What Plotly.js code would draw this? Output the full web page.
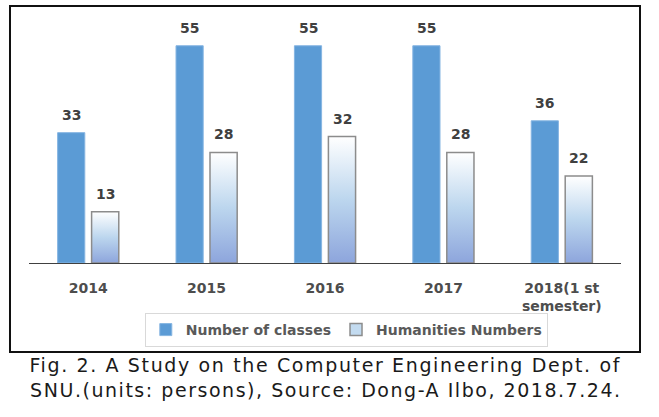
<!DOCTYPE html>
<html><head><meta charset="utf-8">
<script src="https://cdn.plot.ly/plotly-3.0.1.min.js"></script>
<style>html,body{margin:0;padding:0;background:#fff;} #chart{width:659px;height:417px;}</style>
</head><body><div id="chart"></div>
<script>
const categories = ['2014', '2015', '2016', '2017', '2018(1 st<br>semester)'];
const classes = [33, 55, 55, 55, 36];
const humanities = [13, 28, 32, 28, 22];
const seriesNames = ['Number of classes', 'Humanities Numbers'];
const captionLines = [
  'Fig. 2. A Study on the Computer Engineering Dept. of',
  'SNU.(units: persons), Source: Dong-A Ilbo, 2018.7.24.'
];

const labelFont = {family: 'DejaVu Sans', size: 14, color: '#404040', weight: 'bold'};
const annotations = [];
[classes, humanities].forEach((vals, si) => {
  vals.forEach((v, i) => {
    annotations.push({
      x: i, y: v, xref: 'x', yref: 'y', text: String(v),
      showarrow: false, xshift: si === 0 ? -17 : 17, yshift: 18,
      xanchor: 'center', yanchor: 'middle', font: labelFont
    });
  });
});
captionLines.forEach((t, i) => {
  annotations.push({
    x: 0.5, y: i === 0 ? -0.43 : -0.536, xref: 'paper', yref: 'paper',
    text: t, showarrow: false, xanchor: 'center', yanchor: 'middle',
    font: {family: 'DejaVu Sans', size: 19, color: '#1a1a1a'}
  });
});

const data = [
  {type: 'bar', name: seriesNames[0], x: categories, y: classes,
   marker: {color: '#5b9bd5', line: {color: '#86b5e2', width: 1}}},
  {type: 'bar', name: seriesNames[1], x: categories, y: humanities,
   marker: {color: '#c3dbf0', line: {color: '#8c8c8c', width: 1.5}}}
];

const layout = {
  width: 659, height: 417,
  margin: {l: 29, r: 38, t: 26, b: 154},
  paper_bgcolor: '#ffffff', plot_bgcolor: '#ffffff',
  barmode: 'group', bargap: 0.426, bargroupgap: 0.2,
  showlegend: true,
  legend: {
    orientation: 'h', x: 0.536, xanchor: 'center', y: -0.211, yanchor: 'top',
    bordercolor: '#d9d9d9', borderwidth: 1, bgcolor: 'rgba(255,255,255,0)',
    font: {family: 'DejaVu Sans', size: 14, color: '#595959', weight: 'bold'}
  },
  xaxis: {
    type: 'category', range: [-0.5, 4.5], showline: true, linecolor: '#404040', linewidth: 1,
    ticks: '', showgrid: false, zeroline: false, ticklabelstandoff: 12,
    tickfont: {family: 'DejaVu Sans', size: 14, color: '#4d4d4d', weight: 'bold'}
  },
  yaxis: {range: [0, 60], visible: false, showgrid: false, zeroline: false},
  annotations: annotations,
  shapes: [{
    type: 'rect', xref: 'paper', yref: 'paper',
    x0: -0.0321, x1: 1.0321, y0: -0.3755, y1: 1.0844,
    line: {color: '#111111', width: 2}, fillcolor: 'rgba(0,0,0,0)', layer: 'below'
  }]
};

Plotly.newPlot('chart', data, layout, {staticPlot: true, displayModeBar: false}).then(gd => {
  const ns = 'http://www.w3.org/2000/svg';
  const svg = gd.querySelector('svg.main-svg');
  let defs = svg.querySelector('defs');
  if (!defs) { defs = document.createElementNS(ns, 'defs'); svg.insertBefore(defs, svg.firstChild); }
  const lg = document.createElementNS(ns, 'linearGradient');
  lg.setAttribute('id', 'humGrad');
  lg.setAttribute('x1', '0'); lg.setAttribute('y1', '0');
  lg.setAttribute('x2', '0'); lg.setAttribute('y2', '1');
  [['0', '#ffffff'], ['0.5', '#bcd6ee'], ['1', '#8da5dc']].forEach(([o, c]) => {
    const s = document.createElementNS(ns, 'stop');
    s.setAttribute('offset', o); s.setAttribute('stop-color', c);
    lg.appendChild(s);
  });
  defs.appendChild(lg);
  const traces = gd.querySelectorAll('.barlayer .trace');
  if (traces[1]) traces[1].querySelectorAll('path').forEach(p => { p.style.fill = 'url(#humGrad)'; });
  gd.querySelectorAll('.annotation-text').forEach(t => {
    if (captionLines.indexOf(t.textContent) >= 0) {
      t.setAttribute('textLength', '590');
      t.setAttribute('lengthAdjust', 'spacing');
    }
  });
});
</script>
</body></html>
